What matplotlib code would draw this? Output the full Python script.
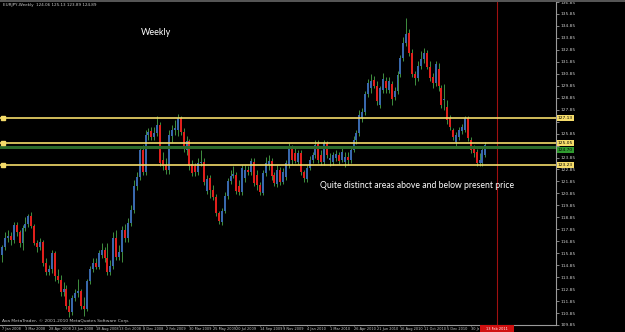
import matplotlib
matplotlib.use("Agg")
import matplotlib.pyplot as plt
from matplotlib.patches import Rectangle
from matplotlib.transforms import Bbox

# weekly OHLC
opens = [115.73, 116.41, 117.16, 117.32, 116.99, 118.23, 117.65, 116.74, 117.99, 118.32,
         118.98, 118.15, 116.74, 116.33, 116.82, 115.07, 114.32, 114.49, 115.90, 113.91,
         113.58, 112.58, 112.83, 111.42, 110.92, 112.08, 112.50, 112.66, 111.42, 111.17,
         113.49, 114.49, 115.07, 114.74, 115.73, 116.15, 115.49, 114.24, 114.82, 117.16,
         115.57, 115.98, 117.82, 117.16, 118.40, 119.48, 121.47, 122.22, 124.46, 122.63,
         125.71, 126.05, 125.55, 125.88, 126.54, 123.63, 123.21, 122.80, 125.63, 126.13,
         126.13, 127.13, 125.96, 124.46, 125.22, 123.30, 123.13, 122.63, 123.38, 123.46,
         121.06, 122.14, 121.14, 120.56, 119.23, 118.48, 119.40, 120.64, 121.89, 122.30,
         122.38, 121.47, 120.97, 122.14, 122.80, 122.63, 123.46, 122.38, 121.55, 120.89,
         122.55, 123.21, 123.55, 122.38, 121.64, 122.80, 121.80, 122.22, 123.21, 124.64,
         124.21, 123.46, 124.21, 122.63, 122.05, 122.97, 123.63, 124.04, 124.97, 124.04,
         123.46, 125.05, 123.63, 123.46, 123.80, 124.04, 123.63, 123.46, 123.88, 123.63,
         124.46, 125.30, 125.88, 127.13, 127.62, 129.12, 129.62, 130.36, 129.86, 128.20,
         129.53, 130.28, 129.53, 130.03, 128.87, 129.37, 130.86, 132.19, 133.44, 134.27,
         132.60, 130.86, 130.53, 131.52, 132.11, 132.60, 131.44, 130.61, 130.11, 131.28,
         129.62, 128.62, 128.04, 127.13, 126.13, 125.13, 125.55, 126.05, 126.13, 127.13,
         125.30, 124.64, 124.29, 123.38, 123.38, 124.04]
highs = [116.57, 117.65, 117.82, 117.65, 118.48, 118.48, 117.82, 118.23, 118.90, 119.15,
         119.31, 118.32, 116.99, 117.16, 116.99, 115.49, 114.90, 116.15, 116.07, 114.49,
         113.99, 113.41, 113.16, 112.00, 112.33, 112.83, 113.66, 112.83, 112.17, 113.66,
         114.82, 115.49, 115.49, 116.15, 116.74, 116.33, 116.74, 115.32, 117.65, 117.82,
         116.57, 118.15, 118.32, 118.82, 119.89, 121.97, 122.63, 124.64, 124.88, 126.13,
         126.30, 126.38, 126.38, 127.29, 126.79, 124.29, 123.80, 126.13, 126.54, 126.96,
         127.46, 127.29, 126.30, 125.63, 125.38, 123.63, 123.38, 123.80, 124.46, 123.80,
         122.38, 122.38, 121.55, 120.81, 119.40, 119.65, 120.97, 122.14, 122.80, 123.13,
         122.63, 121.97, 123.21, 123.21, 123.13, 123.80, 123.80, 122.80, 121.80, 122.80,
         123.88, 124.04, 123.80, 122.63, 123.21, 123.05, 122.97, 123.63, 125.05, 124.88,
         124.64, 124.46, 124.46, 122.80, 123.21, 123.96, 124.29, 125.30, 125.30, 124.46,
         125.30, 125.22, 124.21, 124.29, 124.46, 124.29, 124.64, 124.29, 124.29, 124.64,
         125.63, 126.13, 127.79, 127.96, 129.45, 130.45, 130.86, 130.70, 130.28, 129.86,
         130.94, 130.61, 130.61, 130.28, 129.78, 131.11, 132.44, 133.94, 135.52, 134.61,
         132.95, 131.11, 131.94, 132.77, 133.03, 132.86, 131.94, 130.94, 131.94, 131.77,
         129.95, 130.03, 128.62, 127.37, 126.30, 125.96, 126.38, 126.63, 127.29, 127.29,
         125.55, 124.88, 124.55, 124.21, 124.64, 125.13]
lows = [115.15, 116.15, 116.82, 116.57, 116.74, 117.32, 116.41, 116.15, 117.74, 118.07,
        117.99, 116.57, 115.98, 116.15, 114.82, 113.99, 114.07, 114.16, 113.49, 113.33,
        112.25, 112.25, 111.17, 110.51, 110.67, 111.83, 112.17, 111.17, 110.59, 111.00,
        113.24, 114.24, 114.49, 114.49, 115.49, 115.15, 113.99, 113.99, 114.49, 115.32,
        115.32, 115.15, 116.82, 116.82, 118.15, 119.23, 121.14, 121.97, 122.38, 122.38,
        125.30, 125.30, 125.30, 125.63, 123.13, 122.80, 122.47, 122.47, 125.13, 125.71,
        125.63, 125.71, 124.29, 124.04, 122.80, 122.30, 122.30, 122.38, 123.13, 121.55,
        120.81, 120.47, 120.31, 118.98, 118.32, 118.23, 119.23, 120.39, 121.64, 122.14,
        120.81, 120.72, 120.72, 121.80, 122.38, 122.38, 121.47, 121.14, 120.72, 120.72,
        122.30, 122.80, 121.97, 121.47, 121.39, 121.55, 121.64, 121.97, 122.97, 123.30,
        123.38, 123.30, 122.38, 121.80, 121.80, 122.80, 123.38, 123.80, 123.38, 123.21,
        123.21, 123.80, 123.13, 123.21, 123.55, 123.30, 123.46, 123.05, 123.21, 123.38,
        124.29, 124.97, 125.63, 126.79, 127.37, 128.87, 129.28, 129.62, 128.20, 127.96,
        129.28, 129.28, 129.28, 128.20, 128.62, 129.12, 130.61, 131.94, 133.19, 132.35,
        130.61, 129.95, 130.28, 131.28, 131.77, 131.28, 130.28, 129.62, 129.86, 129.45,
        127.96, 127.79, 126.63, 126.13, 125.30, 124.64, 125.30, 125.80, 125.96, 125.22,
        124.21, 123.88, 123.13, 123.13, 123.13, 123.88]
closes = [116.41, 117.16, 117.32, 116.99, 118.23, 117.65, 116.74, 117.99, 118.32, 118.98,
          118.15, 116.74, 116.33, 116.82, 115.07, 114.32, 114.49, 115.90, 113.91, 113.58,
          112.58, 112.83, 111.42, 110.92, 112.08, 112.50, 112.66, 111.42, 111.17, 113.49,
          114.49, 115.07, 114.74, 115.90, 116.15, 115.49, 114.24, 114.82, 117.16, 115.57,
          115.98, 117.82, 117.16, 118.40, 119.48, 121.47, 122.22, 124.46, 122.63, 125.71,
          125.96, 125.55, 125.88, 126.54, 123.38, 123.13, 122.80, 125.71, 126.13, 126.30,
          127.13, 125.96, 124.64, 125.22, 123.13, 122.55, 122.63, 123.38, 123.46, 121.80,
          122.05, 121.14, 120.56, 119.23, 118.57, 119.40, 120.64, 121.89, 122.30, 122.47,
          121.06, 120.97, 122.97, 122.80, 122.63, 123.55, 121.72, 121.55, 120.97, 122.55,
          123.38, 123.55, 122.30, 121.72, 122.80, 121.80, 122.63, 123.38, 124.72, 123.63,
          123.55, 124.21, 122.63, 122.14, 122.97, 123.63, 124.04, 124.88, 123.63, 123.46,
          125.05, 124.04, 123.80, 124.04, 124.13, 123.55, 124.29, 123.88, 123.63, 124.46,
          125.30, 125.88, 127.37, 127.62, 129.12, 130.11, 130.28, 129.86, 128.54, 129.62,
          130.45, 129.62, 130.28, 128.70, 129.45, 130.78, 132.19, 133.44, 134.19, 132.60,
          130.86, 130.53, 131.52, 132.11, 132.60, 131.44, 130.53, 130.11, 131.69, 129.86,
          128.20, 128.70, 126.96, 126.38, 125.55, 125.71, 126.13, 126.38, 127.13, 125.47,
          124.46, 124.21, 123.38, 123.63, 124.46, 124.88]

date_labels = ["7 Jan 2008", "3 Mar 2008", "28 Apr 2008", "23 Jun 2008", "18 Aug 2008",
               "13 Oct 2008", "8 Dec 2008", "2 Feb 2009", "30 Mar 2009", "25 May 2009",
               "20 Jul 2009", "14 Sep 2009", "9 Nov 2009", "4 Jan 2010", "1 Mar 2010",
               "26 Apr 2010", "21 Jun 2010", "16 Aug 2010", "11 Oct 2010", "5 Dec 2010",
               "30 Jan 2011"]
label_step = 8

price_ticks = [109.85 + k for k in range(28)]
yellow_levels = [127.13, 125.05, 123.23]
green_level = 124.70
vline_bar = 168.9

BG = "black"
WICK = "#3f8f3f"
UP = "#3968ad"
DOWN = "#e0201c"
YELLOW = "#f5dc6a"
AXIS_TXT = "#c8c8c8"

fig = plt.figure(figsize=(6.25, 3.32), dpi=100, facecolor=BG)
ax = fig.add_axes([0, 7 / 332, 556 / 625, 323 / 332])
ax.set_facecolor(BG)
ax.set_xlim(-0.68, 189.1)
ax.set_ylim(109.94, 136.767)

n = len(closes)
xs = list(range(n))
ax.vlines(xs, lows, highs, color=WICK, lw=0.7, zorder=2)
bottoms = [min(o, c) for o, c in zip(opens, closes)]
heights = [max(abs(c - o), 0.06) for o, c in zip(opens, closes)]
colors = [UP if c > o else (DOWN if c < o else WICK) for o, c in zip(opens, closes)]
ax.bar(xs, heights, bottom=bottoms, width=0.68, color=colors, lw=0, zorder=3)

# horizontal levels
label_box = dict(boxstyle="square,pad=0.22", ec="none")
for lv in yellow_levels:
    ax.axhline(lv, color=YELLOW, lw=1.2, zorder=4)
    ax.plot([0.2], [lv], marker="s", ms=2.2, color=YELLOW, zorder=5)
    ax.text(1.003, lv, f"{lv:.2f}", transform=ax.get_yaxis_transform(), fontsize=3.2,
            color="black", va="center", ha="left", clip_on=False,
            bbox=dict(label_box, fc=YELLOW), zorder=10)
ax.axhline(green_level, color="#2b6a2b", lw=2.2, zorder=4)
ax.text(1.003, green_level - 0.19, f"{green_level:.2f}", transform=ax.get_yaxis_transform(),
        fontsize=3.2, color="black", va="center", ha="left", clip_on=False,
        bbox=dict(label_box, fc="#2f9a2f"), zorder=9)

ax.axvline(vline_bar, color="#a01010", lw=0.8, zorder=1)

# texts on chart
ax.text(47.5, 134.27, "Weekly", color="white", fontsize=6.5, family="Lato", va="center")
ax.text(108.5, 121.55, "Quite distinct areas above and below present price", color="white",
        fontsize=6.2, family="Lato", va="center")

# axes styling
for s in ["top", "left"]:
    ax.spines[s].set_visible(False)
for s in ["right", "bottom"]:
    ax.spines[s].set_color("#9a9a9a")
    ax.spines[s].set_linewidth(0.8)
ax.yaxis.tick_right()
ax.set_yticks(price_ticks)
tick_text = []
for p in price_ticks:
    hidden = any(abs(p - lv) < 0.3 for lv in yellow_levels + [green_level])
    tick_text.append("" if hidden else f"{p:.2f}")
ax.set_yticklabels(tick_text)
ax.tick_params(axis="y", colors="#9a9a9a", labelcolor=AXIS_TXT, labelsize=3.2, length=2,
               width=0.6, pad=1)
ax.set_xticks([k * label_step for k in range(len(date_labels))])
xlabels = ax.set_xticklabels(date_labels, ha="left")
ax.tick_params(axis="x", colors="#9a9a9a", labelcolor=AXIS_TXT, labelsize=2.5, length=1,
               width=0.6, pad=0.3)
# last date label runs under the red time box, like in the terminal
xlabels[-1].set_clip_box(Bbox.from_extents(0, 0, 479, 332))
xlabels[-1].set_clip_on(True)

# time label of the vertical line
fig.patches.append(Rectangle((480 / 625, 0), 34 / 625, 7 / 332, transform=fig.transFigure,
                             fc="#d01010", ec="none", zorder=20))
fig.text(497 / 625, 3.5 / 332, "13 Feb 2011", color="white", fontsize=2.5, ha="center",
         va="center", zorder=21)

# header and footer
fig.patches.append(Rectangle((0, 1 - 2 / 332), 1, 2 / 332, transform=fig.transFigure,
                             fc="#555555", ec="none"))
fig.text(3 / 625, 1 - 5 / 332, "EURJPY,Weekly  124.06 125.13 123.89 124.89", color=AXIS_TXT,
         fontsize=3.0, va="center")
fig.text(2 / 625, 1 - 321 / 332, "Ava MetaTrader, \u00a9 2001-2010 MetaQuotes Software Corp.",
         color=AXIS_TXT, fontsize=3.2, va="center")

fig.savefig("out.png", dpi=100, facecolor=BG)
